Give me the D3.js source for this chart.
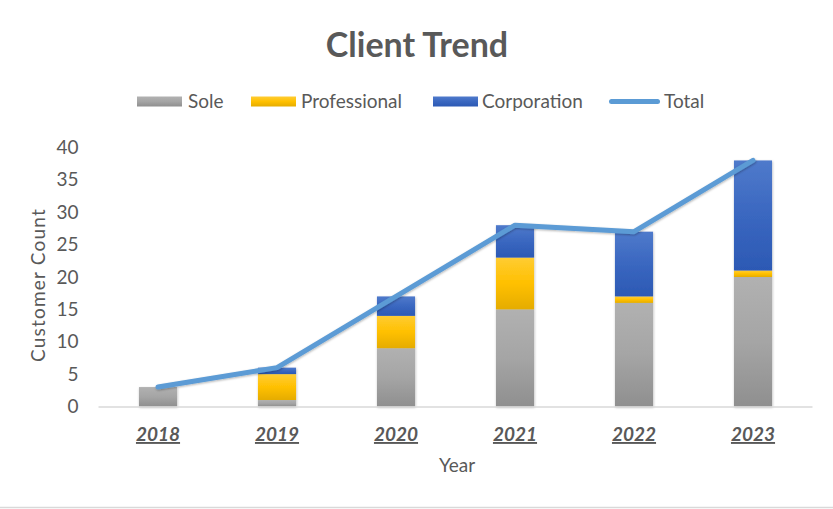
<!DOCTYPE html>
<html><head><meta charset="utf-8">
<script src="https://cdn.jsdelivr.net/npm/d3@7"></script>
<style>body{margin:0;background:#fff;}svg{display:block;font-family:Lato,"Open Sans",sans-serif;}</style>
</head><body>
<svg id="c" width="833" height="509"></svg>
<script>
const years = ["2018","2019","2020","2021","2022","2023"];
const sole = [3,1,9,15,16,20];
const professional = [0,4,5,8,1,1];
const corporation = [0,1,3,5,10,17];
const total = [3,6,17,28,27,38];
const yTicks = [0,5,10,15,20,25,30,35,40];
const seriesNames = ["Sole","Professional","Corporation"];

const svg = d3.select("#c");
const defs = svg.append("defs");
function grad(id, top, mid, bot){
  const g = defs.append("linearGradient").attr("id",id).attr("x1",0).attr("y1",0).attr("x2",0).attr("y2",1);
  g.append("stop").attr("offset","0%").attr("stop-color",top);
  g.append("stop").attr("offset","50%").attr("stop-color",mid);
  g.append("stop").attr("offset","100%").attr("stop-color",bot);
}
grad("gSole","#b1b1b1","#a5a5a5","#8f8f8f");
grad("gProf","#ffcc33","#ffc000","#e5ac00");
grad("gCorp","#4f7acb","#3a67c0","#2c59b4");
const f = defs.append("filter").attr("id","sh").attr("x","-20%").attr("y","-20%").attr("width","140%").attr("height","140%");
f.append("feDropShadow").attr("dx",0.5).attr("dy",1).attr("stdDeviation",1.2).attr("flood-color","#000").attr("flood-opacity",0.3);

const fills = ["url(#gSole)","url(#gProf)","url(#gCorp)"];

const x = d3.scaleBand().domain(years).range([98.5,812.5]).paddingInner(0.68).paddingOuter(0.34);
const y = d3.scaleLinear().domain([0,40]).range([406.5,147.5]);

// bottom frame line
svg.append("line").attr("x1",0).attr("x2",833).attr("y1",507.5).attr("y2",507.5).attr("stroke","#d9d9d9").attr("stroke-width",1.5);

// title
svg.append("text").attr("x",417).attr("y",57).attr("text-anchor","middle")
  .attr("font-size",34).attr("font-weight","bold").attr("fill","#595959").text("Client Trend");

// y axis labels
const yAxis = d3.axisLeft(y).tickValues(yTicks).tickSize(0).tickPadding(0);
const ya = svg.append("g").attr("transform","translate(78.5,0)").call(yAxis);
ya.select(".domain").remove();
ya.selectAll("text").attr("font-size",19).attr("fill","#595959").attr("font-family","Lato,'Open Sans',sans-serif");

// stacked data
const rows = years.map((yr,i)=>({year:yr, Sole:sole[i], Professional:professional[i], Corporation:corporation[i]}));
const stack = d3.stack().keys(seriesNames)(rows);

const bars = svg.append("g").attr("filter","url(#sh)");
stack.forEach((s,si)=>{
  bars.selectAll(null).data(s.filter(d=>d[1]-d[0]>0)).enter().append("rect")
    .attr("x",d=>x(d.data.year)).attr("width",x.bandwidth())
    .attr("y",d=>y(d[1])).attr("height",d=>y(d[0])-y(d[1]))
    .attr("fill",fills[si]);
});

// x axis
const xAxis = d3.axisBottom(x).tickSize(0).tickPadding(0);
const xa = svg.append("g").attr("transform","translate(0,407)").call(xAxis);
xa.select(".domain").attr("stroke","#d9d9d9").attr("stroke-width",1.5).attr("d","M98.5,0H812.5");
xa.selectAll("text").attr("y",34).attr("dy",0).attr("font-size",19).attr("font-weight","bold").attr("font-style","italic")
  .attr("text-decoration","underline").attr("fill","#595959").attr("font-family","Lato,'Open Sans',sans-serif");

// total line
const line = d3.line().x((d,i)=>x(years[i])+x.bandwidth()/2).y(d=>y(d));
svg.append("path").datum(total).attr("d",line).attr("fill","none").attr("stroke","#5b9bd5")
  .attr("stroke-width",5).attr("stroke-linejoin","round").attr("stroke-linecap","round").attr("filter","url(#sh)");

// axis titles
svg.append("text").attr("x",457).attr("y",472).attr("text-anchor","middle").attr("font-size",19).attr("fill","#595959").text("Year");
svg.append("text").attr("transform","translate(45,285) rotate(-90)").attr("text-anchor","middle").attr("font-size",19)
  .attr("letter-spacing",1.2).attr("fill","#595959").text("Customer Count");

// legend
const legend = [
  {name:"Sole", sx:137, tx:188, type:"rect", fill:fills[0]},
  {name:"Professional", sx:251, tx:301, type:"rect", fill:fills[1]},
  {name:"Corporation", sx:433, tx:482, type:"rect", fill:fills[2]},
  {name:"Total", sx:609, tx:664, type:"line"}
];
const lg = svg.append("g");
legend.forEach(l=>{
  if(l.type==="rect"){
    lg.append("rect").attr("x",l.sx).attr("y",96.5).attr("width",45).attr("height",10).attr("fill",l.fill);
  } else {
    lg.append("line").attr("x1",l.sx+2.5).attr("x2",l.sx+48.5).attr("y1",101.5).attr("y2",101.5)
      .attr("stroke","#5b9bd5").attr("stroke-width",5).attr("stroke-linecap","round");
  }
  lg.append("text").attr("x",l.tx).attr("y",108).attr("font-size",19).attr("fill","#595959").text(l.name);
});
</script>
</body></html>
